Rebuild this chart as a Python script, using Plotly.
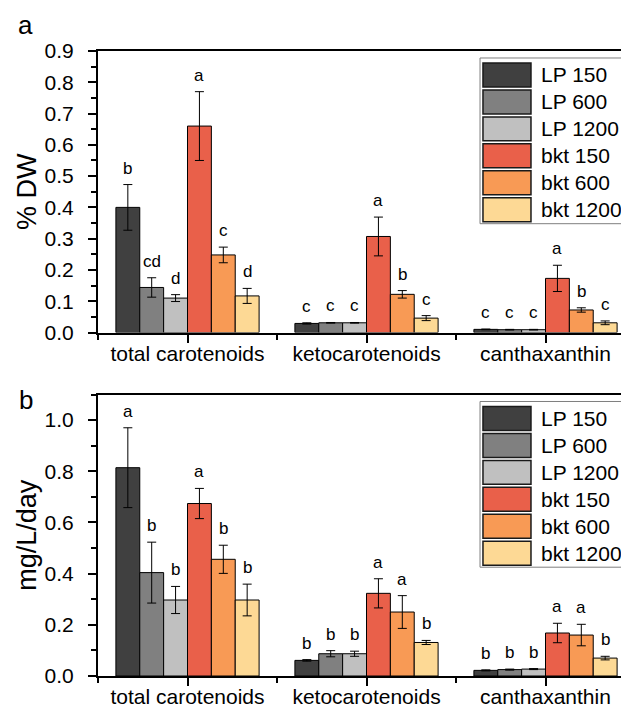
import plotly.graph_objects as go
from plotly.subplots import make_subplots

categories = ["total carotenoids", "ketocarotenoids", "canthaxanthin"]
series_names = ["LP 150", "LP 600", "LP 1200", "bkt 150", "bkt 600", "bkt 1200"]
series_colors = ["#404040", "#808080", "#c0c0c0", "#e9604a", "#f89a55", "#fdd995"]

# panel a: % DW  (one list per series: total, keto, canthaxanthin)
dw_means = [
    [0.400, 0.029, 0.010],
    [0.144, 0.031, 0.009],
    [0.110, 0.031, 0.009],
    [0.660, 0.307, 0.173],
    [0.248, 0.122, 0.072],
    [0.117, 0.046, 0.031],
]
dw_errors = [
    [0.073, 0.002, 0.001],
    [0.031, 0.001, 0.001],
    [0.011, 0.001, 0.001],
    [0.110, 0.062, 0.042],
    [0.025, 0.012, 0.007],
    [0.024, 0.008, 0.006],
]
dw_letters = [
    ["b", "c", "c"],
    ["cd", "c", "c"],
    ["d", "c", "c"],
    ["a", "a", "a"],
    ["c", "b", "b"],
    ["d", "c", "c"],
]

# panel b: mg/L/day
prod_means = [
    [0.814, 0.061, 0.022],
    [0.404, 0.087, 0.025],
    [0.297, 0.087, 0.027],
    [0.674, 0.323, 0.168],
    [0.456, 0.250, 0.160],
    [0.297, 0.131, 0.070],
]
prod_errors = [
    [0.156, 0.003, 0.002],
    [0.119, 0.012, 0.002],
    [0.053, 0.010, 0.002],
    [0.059, 0.057, 0.038],
    [0.055, 0.064, 0.042],
    [0.062, 0.008, 0.007],
]
prod_letters = [
    ["a", "b", "b"],
    ["b", "b", "b"],
    ["b", "b", "b"],
    ["a", "a", "a"],
    ["b", "a", "a"],
    ["b", "b", "b"],
]

FONT = "Liberation Sans, Arial, sans-serif"
n_series = len(series_names)
group_width = 0.8
bar_w = group_width / n_series

fig = make_subplots(rows=2, cols=1, vertical_spacing=0.0992)

panels = [
    (1, dw_means, dw_errors, dw_letters),
    (2, prod_means, prod_errors, prod_letters),
]

for row, means, errs, letters in panels:
    for i in range(n_series):
        xs = [g + (i - (n_series - 1) / 2) * bar_w for g in range(len(categories))]
        fig.add_trace(
            go.Bar(
                x=xs,
                y=means[i],
                width=bar_w,
                name=series_names[i],
                marker=dict(color=series_colors[i], line=dict(color="#000000", width=1)),
                error_y=dict(type="data", array=errs[i], visible=True,
                             color="#000000", thickness=1, width=4.5),
                showlegend=False,
            ),
            row=row, col=1,
        )
        for g in range(len(categories)):
            fig.add_annotation(
                x=xs[g], y=means[i][g] + errs[i][g],
                xref="x" if row == 1 else "x2",
                yref="y" if row == 1 else "y2",
                text=letters[i][g], showarrow=False,
                yanchor="bottom", yshift=5,
                font=dict(family=FONT, size=17, color="#000000"),
            )

# custom legend (matches the large swatches of the original)
for row in (1, 2):
    xr = "x domain" if row == 1 else "x2 domain"
    yr = "y domain" if row == 1 else "y2 domain"
    h = 282.0
    top_px = 7.0
    fig.add_shape(type="rect", xref=xr, yref=yr,
                  x0=0.7114, x1=0.9814, y0=1 - 166.0 / h - top_px / h, y1=1 - top_px / h,
                  line=dict(color="#7f7f7f", width=1), fillcolor="#ffffff", layer="above")
    for k in range(n_series):
        y_top = 1 - (12.0 + 27.0 * k) / h
        y_bot = 1 - (36.0 + 27.0 * k) / h
        fig.add_shape(type="rect", xref=xr, yref=yr,
                      x0=0.7169, x1=0.8063, y0=y_bot, y1=y_top,
                      line=dict(color="#1a1a1a", width=1.5),
                      fillcolor=series_colors[k], layer="above")
        fig.add_annotation(xref=xr, yref=yr, x=0.8212, y=(y_top + y_bot) / 2,
                           text=series_names[k], showarrow=False,
                           xanchor="left", yanchor="middle",
                           font=dict(family=FONT, size=21, color="#000000"))

axis_common = dict(
    showline=True, linewidth=2, linecolor="#000000", mirror=True,
    ticks="outside", tickwidth=2, tickcolor="#000000", ticklen=8,
    showgrid=False, zeroline=False,
    tickfont=dict(family=FONT, size=21, color="#000000"),
)

for r in (1, 2):
    fig.update_xaxes(
        range=[-0.5, len(categories) - 0.5],
        tickmode="array", tickvals=list(range(len(categories))), ticktext=categories,
        minor=dict(tickmode="array", tickvals=[-0.5, 0.5, 1.5, 2.5],
                   ticks="outside", ticklen=5, tickwidth=2, tickcolor="#000000"),
        ticklabelstandoff=-7,
        row=r, col=1, **axis_common,
    )

fig.update_yaxes(
    range=[0, 0.9], tickmode="linear", tick0=0, dtick=0.1, tickformat=".1f",
    minor=dict(tickmode="linear", tick0=0, dtick=0.05, ticks="outside",
               ticklen=5, tickwidth=2, tickcolor="#000000"),
    ticklabelstandoff=10,
    title=dict(text="% DW", font=dict(family=FONT, size=27, color="#000000"), standoff=0),
    row=1, col=1, **axis_common,
)
fig.update_yaxes(
    range=[0, 1.1], tickmode="linear", tick0=0, dtick=0.2, tickformat=".1f",
    minor=dict(tickmode="linear", tick0=0, dtick=0.1, ticks="outside",
               ticklen=5, tickwidth=2, tickcolor="#000000"),
    ticklabelstandoff=10,
    title=dict(text="mg/L/day", font=dict(family=FONT, size=27, color="#000000"), standoff=0),
    row=2, col=1, **axis_common,
)

fig.add_annotation(xref="paper", yref="paper", x=-0.135, y=1.0688, text="a",
                   showarrow=False, xanchor="center", yanchor="top",
                   font=dict(family=FONT, size=26, color="#000000"))
fig.add_annotation(xref="paper", yref="paper", x=-0.135, y=0.4688, text="b",
                   showarrow=False, xanchor="center", yanchor="top",
                   font=dict(family=FONT, size=26, color="#000000"))

fig.update_layout(
    width=629, height=708,
    margin=dict(l=90, r=2, t=43, b=40, autoexpand=False),
    plot_bgcolor="#ffffff", paper_bgcolor="#ffffff",
    barmode="overlay",
    font=dict(family=FONT, color="#000000"),
)

fig.write_html("out.html")
